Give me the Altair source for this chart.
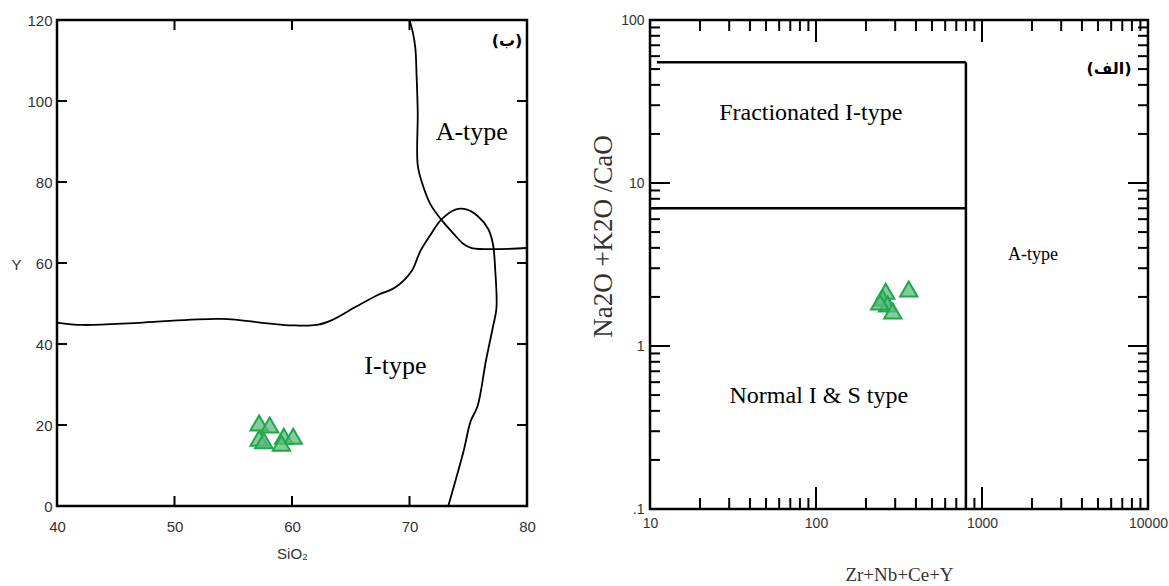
import altair as alt
import pandas as pd

# ---------------- Left panel (Y vs SiO2) ----------------
sio2_ticks = [40, 50, 60, 70, 80]
y_ticks = [0, 20, 40, 60, 80, 100, 120]

# I-type / A-type boundary (horizontal-ish curve with loop)
curve1_sio2 = [40.0, 42.2, 47.3, 54.0, 57.9, 60.0, 62.1, 63.4, 65.5, 67.3, 68.8, 70.2, 70.9,
               71.8, 72.7, 73.9, 74.9, 75.8, 76.7, 77.1, 77.3, 77.4, 77.1, 76.5, 75.8, 75.2,
               74.6, 73.3]
curve1_y = [45.3, 44.7, 45.3, 46.2, 45.1, 44.6, 44.7, 45.9, 49.3, 52.1, 54.0, 58.1, 62.8,
            67.0, 70.7, 73.2, 73.2, 71.6, 68.4, 64.7, 58.1, 48.8, 44.2, 35.8, 24.7, 20.9,
            13.5, 0.0]
# A-type boundary (from top down, then flat to the right)
curve2_sio2 = [70.0, 70.3, 70.5, 70.6, 70.7, 70.7, 71.1, 71.8, 72.7, 73.7, 74.6, 75.3, 80.0]
curve2_y = [120.0, 116.7, 113.0, 106.5, 97.2, 84.2, 79.5, 74.4, 70.7, 67.4, 64.7, 63.7, 63.7]

left_pts_sio2 = [57.2, 58.1, 59.3, 60.1, 57.2, 57.6, 59.1]
left_pts_y = [20.5, 20.0, 17.2, 17.2, 16.7, 16.1, 15.5]

left_label_text = ["A-type", "I-type"]
left_label_x = [75.3, 68.8]
left_label_y = [92.3, 34.6]

left_tag_text = ["(ب)"]
left_tag_x = [78.3]
left_tag_y = [114.8]

# ---------------- Right panel (Na2O+K2O/CaO vs Zr+Nb+Ce+Y) ----------------
zr_major = [10, 100, 1000, 10000]
zr_minor = [20, 30, 40, 50, 60, 70, 80, 90, 200, 300, 400, 500, 600, 700, 800, 900,
            2000, 3000, 4000, 5000, 6000, 7000, 8000, 9000]
na_major = [0.1, 1, 10, 100]
na_minor = [0.2, 0.3, 0.4, 0.5, 0.6, 0.7, 0.8, 0.9, 2, 3, 4, 5, 6, 7, 8, 9,
            20, 30, 40, 50, 60, 70, 80, 90]

seg_x = [11, 800, 10]
seg_x2 = [800, 800, 800]
seg_y = [55, 55, 7]
seg_y2 = [55, 0.1, 7]

right_pts_x = [263, 362, 252, 270, 290, 242]
right_pts_y = [2.17, 2.24, 1.97, 1.81, 1.64, 1.86]

right_label_text = ["Fractionated I-type", "Normal I & S type"]
right_label_x = [93, 104]
right_label_y = [26.7, 0.49]

right_small_text = ["A-type"]
right_small_x = [2030]
right_small_y = [3.62]

right_tag_text = ["(الف)"]
right_tag_x = [5820]
right_tag_y = [49.8]

# ---------------- sizes/styles ----------------
W1, H1 = 470, 486
W2, H2 = 498, 489
SANS = "Liberation Sans"
SERIF = "Liberation Serif"
ARAB = "DejaVu Sans"
TICK_COLOR = "#333333"
TRI_FILL = "#5cb97a"
TRI_STROKE = "#1ea84a"

# ====== left chart ======
xs1 = alt.Scale(domain=[40, 80], nice=False, zero=False)
ys1 = alt.Scale(domain=[0, 120], nice=False, zero=False)

x_axis1 = alt.Axis(values=sio2_ticks, title="SiO₂", labelFont=SANS, labelFontSize=15,
                   labelColor=TICK_COLOR, labelPadding=13, labelFlush=False,
                   titleFont=SANS, titleFontSize=15,
                   titleFontWeight="normal", titleColor=TICK_COLOR, titlePadding=12,
                   ticks=False, domain=False, grid=False)
y_axis1 = alt.Axis(values=y_ticks, title="Y", labelFont=SANS, labelFontSize=15,
                   labelColor=TICK_COLOR, labelPadding=5, labelFlush=False,
                   titleFont=SANS, titleFontSize=15,
                   titleFontWeight="normal", titleColor=TICK_COLOR, titleAngle=0,
                   titleAlign="right", titleBaseline="middle", titleY=244, titlePadding=6,
                   ticks=False, domain=False, grid=False)

c1 = pd.DataFrame({"x": curve1_sio2, "y": curve1_y, "i": range(len(curve1_sio2))})
c2 = pd.DataFrame({"x": curve2_sio2, "y": curve2_y, "i": range(len(curve2_sio2))})

line1 = alt.Chart(c1).mark_line(color="black", strokeWidth=1.8, interpolate="catmull-rom").encode(
    x=alt.X("x:Q", scale=xs1, axis=x_axis1),
    y=alt.Y("y:Q", scale=ys1, axis=y_axis1),
    order="i:Q")
line2 = alt.Chart(c2).mark_line(color="black", strokeWidth=1.8, interpolate="catmull-rom").encode(
    x=alt.X("x:Q", scale=xs1), y=alt.Y("y:Q", scale=ys1), order="i:Q")

tx1 = pd.DataFrame({"v": sio2_ticks})
ty1 = pd.DataFrame({"v": y_ticks})
TL = 10
tick_b1 = alt.Chart(tx1).mark_rule(color="black", strokeWidth=2).encode(
    x=alt.X("v:Q", scale=xs1), y=alt.value(H1), y2=alt.value(H1 - TL))
tick_t1 = alt.Chart(tx1).mark_rule(color="black", strokeWidth=2).encode(
    x=alt.X("v:Q", scale=xs1), y=alt.value(0), y2=alt.value(TL))
tick_l1 = alt.Chart(ty1).mark_rule(color="black", strokeWidth=2).encode(
    y=alt.Y("v:Q", scale=ys1), x=alt.value(0), x2=alt.value(TL))
tick_r1 = alt.Chart(ty1).mark_rule(color="black", strokeWidth=2).encode(
    y=alt.Y("v:Q", scale=ys1), x=alt.value(W1), x2=alt.value(W1 - TL))

p1 = pd.DataFrame({"x": left_pts_sio2, "y": left_pts_y})
pts1 = alt.Chart(p1).mark_point(shape="triangle-up", size=300, filled=True, fill=TRI_FILL,
                                 fillOpacity=0.75, stroke=TRI_STROKE, strokeWidth=2, opacity=1).encode(
    x=alt.X("x:Q", scale=xs1), y=alt.Y("y:Q", scale=ys1))

l1 = pd.DataFrame({"x": left_label_x, "y": left_label_y, "t": left_label_text})
lab1 = alt.Chart(l1).mark_text(font=SERIF, fontSize=26, color="black").encode(
    x=alt.X("x:Q", scale=xs1), y=alt.Y("y:Q", scale=ys1), text="t:N")
g1 = pd.DataFrame({"x": left_tag_x, "y": left_tag_y, "t": left_tag_text})
tag1 = alt.Chart(g1).mark_text(font=ARAB, fontSize=16, fontWeight="bold", color="black").encode(
    x=alt.X("x:Q", scale=xs1), y=alt.Y("y:Q", scale=ys1), text="t:N")

left = alt.layer(line1, line2, tick_b1, tick_t1, tick_l1, tick_r1, pts1, lab1, tag1).properties(
    width=W1, height=H1)

# ====== right chart ======
xs2 = alt.Scale(type="log", domain=[10, 10000], nice=False)
ys2 = alt.Scale(type="log", domain=[0.1, 100], nice=False)

x_axis2 = alt.Axis(values=zr_major, title="Zr+Nb+Ce+Y", labelFont=SANS, labelFontSize=14,
                   labelColor=TICK_COLOR, labelPadding=7, labelFlush=False,
                   labelExpr="format(datum.value, 'd')",
                   titleFont=SERIF, titleFontSize=19, titleFontWeight="normal",
                   titleColor=TICK_COLOR, titlePadding=35,
                   ticks=False, domain=False, grid=False)
y_axis2 = alt.Axis(values=na_major, title="Na2O +K2O /CaO", labelFont=SANS, labelFontSize=14,
                   labelColor=TICK_COLOR, labelPadding=6, labelFlush=False,
                   labelExpr="datum.value < 1 ? '.1' : format(datum.value, 'd')",
                   titleFont=SERIF, titleFontSize=27, titleFontWeight="normal",
                   titleColor=TICK_COLOR, titlePadding=3, titleY=216,
                   ticks=False, domain=False, grid=False)

sg = pd.DataFrame({"x": seg_x, "x2": seg_x2, "y": seg_y, "y2": seg_y2})
segs = alt.Chart(sg).mark_rule(color="black", strokeWidth=2.5).encode(
    x=alt.X("x:Q", scale=xs2, axis=x_axis2), x2="x2:Q",
    y=alt.Y("y:Q", scale=ys2, axis=y_axis2), y2="y2:Q")

MJ, MN = 22, 11
MJY, MNY = 20, 10
txM = pd.DataFrame({"v": zr_major})
txm = pd.DataFrame({"v": zr_minor})
tyM = pd.DataFrame({"v": na_major})
tym = pd.DataFrame({"v": na_minor})


def xticks(df, L):
    b = alt.Chart(df).mark_rule(color="black", strokeWidth=2).encode(
        x=alt.X("v:Q", scale=xs2), y=alt.value(H2), y2=alt.value(H2 - L))
    t = alt.Chart(df).mark_rule(color="black", strokeWidth=2).encode(
        x=alt.X("v:Q", scale=xs2), y=alt.value(0), y2=alt.value(L))
    return [b, t]


def yticks(df, L):
    l = alt.Chart(df).mark_rule(color="black", strokeWidth=2).encode(
        y=alt.Y("v:Q", scale=ys2), x=alt.value(0), x2=alt.value(L))
    r = alt.Chart(df).mark_rule(color="black", strokeWidth=2).encode(
        y=alt.Y("v:Q", scale=ys2), x=alt.value(W2), x2=alt.value(W2 - L))
    return [l, r]


p2 = pd.DataFrame({"x": right_pts_x, "y": right_pts_y})
pts2 = alt.Chart(p2).mark_point(shape="triangle-up", size=300, filled=True, fill=TRI_FILL,
                                 fillOpacity=0.75, stroke=TRI_STROKE, strokeWidth=2, opacity=1).encode(
    x=alt.X("x:Q", scale=xs2), y=alt.Y("y:Q", scale=ys2))

l2 = pd.DataFrame({"x": right_label_x, "y": right_label_y, "t": right_label_text})
lab2 = alt.Chart(l2).mark_text(font=SERIF, fontSize=24, color="black").encode(
    x=alt.X("x:Q", scale=xs2), y=alt.Y("y:Q", scale=ys2), text="t:N")
s2 = pd.DataFrame({"x": right_small_x, "y": right_small_y, "t": right_small_text})
lab2s = alt.Chart(s2).mark_text(font=SERIF, fontSize=18, color="black").encode(
    x=alt.X("x:Q", scale=xs2), y=alt.Y("y:Q", scale=ys2), text="t:N")
g2 = pd.DataFrame({"x": right_tag_x, "y": right_tag_y, "t": right_tag_text})
tag2 = alt.Chart(g2).mark_text(font=ARAB, fontSize=16, fontWeight="bold", color="black").encode(
    x=alt.X("x:Q", scale=xs2), y=alt.Y("y:Q", scale=ys2), text="t:N")

right = alt.layer(segs, *xticks(txM, MJ), *xticks(txm, MN), *yticks(tyM, MJY), *yticks(tym, MNY),
                  pts2, lab2, lab2s, tag2).properties(width=W2, height=H2)

chart = alt.hconcat(left, right, spacing=51).properties(
    padding={"left": 9, "top": 11, "right": 0, "bottom": 0},
    background="white"
).configure_view(stroke="black", strokeWidth=2.5)

chart.save("out.html", embed_options={"renderer": "svg", "actions": False})
